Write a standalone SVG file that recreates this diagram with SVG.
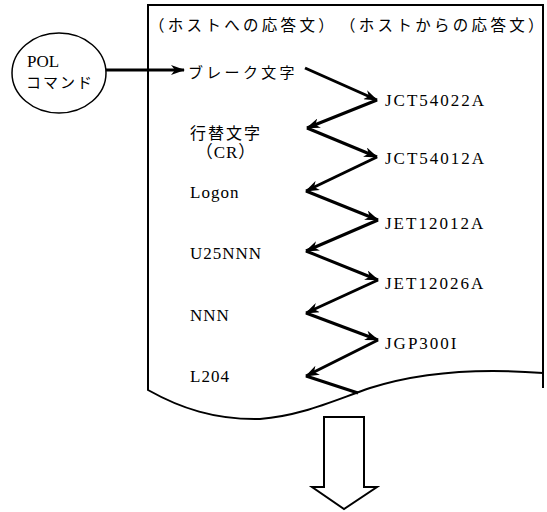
<svg xmlns="http://www.w3.org/2000/svg" width="547" height="512" viewBox="0 0 547 512">
<style>
.jp{font-family:"Noto Sans CJK JP","Noto Sans CJK SC",sans-serif;fill:#000}
.lt{font-family:"Liberation Serif","Noto Sans CJK JP",serif;fill:#000}
.hd{font-size:15.5px;letter-spacing:3.3px}
.lbl{font-size:17px;letter-spacing:1px}
.rl{font-size:17px;letter-spacing:2px}
.zz{stroke:#000;stroke-width:3;fill:none;marker-end:url(#ah)}
</style>
<defs>
<marker id="ah" viewBox="0 0 14 10" refX="13" refY="5" markerWidth="14" markerHeight="10" markerUnits="userSpaceOnUse" orient="auto">
<path d="M0,0 L14,5 L0,10 L4,5 Z" fill="#000"/>
</marker>
</defs>
<g id="document">
<path d="M543,388 V5 H148 V390 C180,408 215,420 260,419 C300,416 330,402 370,388 C420,372 480,368 543,373" fill="#fff" stroke="#000" stroke-width="2"/>
<text class="jp hd" x="149" y="31">（ホストへの応答文）</text>
<text class="jp hd" x="340" y="31">（ホストからの応答文）</text>
</g>
<g id="pol">
<ellipse cx="59" cy="73" rx="47" ry="40" fill="#fff" stroke="#000" stroke-width="1.5"/>
<text class="lt" x="27" y="67" font-size="17">POL</text>
<text class="jp" x="26" y="88" font-size="15" letter-spacing="2">コマンド</text>
</g>
<g id="host-labels">
<text class="jp" x="188" y="78" font-size="15" letter-spacing="3.3">ブレーク文字</text>
<text class="jp" x="190" y="139" font-size="16" letter-spacing="2">行替文字</text>
<text class="lt" x="226" y="158" font-size="17" letter-spacing="1" text-anchor="middle">（CR）</text>
<text class="lt lbl" x="190" y="198">Logon</text>
<text class="lt lbl" x="190" y="259">U25NNN</text>
<text class="lt lbl" x="190" y="321">NNN</text>
<text class="lt lbl" x="190" y="382">L204</text>
</g>
<g id="reply-labels">
<text class="lt rl" x="385" y="106">JCT54022A</text>
<text class="lt rl" x="385" y="164">JCT54012A</text>
<text class="lt rl" x="385" y="229">JET12012A</text>
<text class="lt rl" x="385" y="289">JET12026A</text>
<text class="lt rl" x="385" y="349">JGP300I</text>
</g>
<g id="connectors">
<line class="zz" x1="106" y1="70" x2="184" y2="70"/>
<line class="zz" x1="305" y1="68" x2="377" y2="100"/>
<line class="zz" x1="377" y1="100" x2="307" y2="128"/>
<line class="zz" x1="307" y1="128" x2="377" y2="157"/>
<line class="zz" x1="377" y1="157" x2="306" y2="191"/>
<line class="zz" x1="306" y1="191" x2="378" y2="220"/>
<line class="zz" x1="378" y1="220" x2="306" y2="251"/>
<line class="zz" x1="306" y1="251" x2="378" y2="280"/>
<line class="zz" x1="378" y1="280" x2="306" y2="313"/>
<line class="zz" x1="306" y1="313" x2="378" y2="340"/>
<line class="zz" x1="378" y1="340" x2="306" y2="376"/>
<line x1="306" y1="376" x2="358" y2="393" stroke="#000" stroke-width="3"/>
</g>
<g id="down-arrow">
<path d="M324,417 H364 V487 H377 L344,509 L312,487 H324 Z" fill="#fff" stroke="#000" stroke-width="2"/>
</g>
</svg>
